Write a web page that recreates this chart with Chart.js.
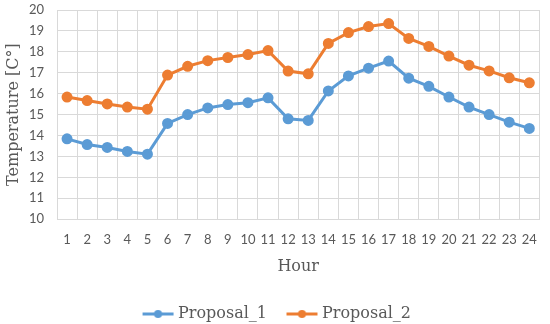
<!DOCTYPE html>
<html>
<head>
<meta charset="utf-8">
<script src="https://cdn.jsdelivr.net/npm/chart.js@4"></script>
<style>
  html, body { margin: 0; padding: 0; background: #fff; }
  #wrap { width: 550px; height: 324px; }
</style>
</head>
<body>
<div id="wrap"><canvas id="grafico" width="550" height="324"></canvas></div>
<script>
const horas = ['1','2','3','4','5','6','7','8','9','10','11','12','13','14','15','16','17','18','19','20','21','22','23','24'];
const proposta1 = [13.84, 13.57, 13.43, 13.24, 13.11, 14.58, 15.0, 15.32, 15.48, 15.57, 15.80, 14.80,
                   14.72, 16.13, 16.85, 17.22, 17.56, 16.74, 16.35, 15.84, 15.36, 15.0, 14.64, 14.34];
const proposta2 = [15.84, 15.67, 15.51, 15.36, 15.26, 16.89, 17.31, 17.58, 17.73, 17.87, 18.06, 17.08,
                   16.95, 18.40, 18.92, 19.21, 19.35, 18.64, 18.26, 17.80, 17.36, 17.09, 16.76, 16.52];

const azul = '#5B9BD5';
const laranja = '#ED7D31';
const cinza = '#595959';

// marcador da legenda: linha com bolinha no meio
// (imagem maior que a caixa, a linha fica colada no texto)
function marcador(cor) {
    const c = document.createElement('canvas');
    c.width = 62; c.height = 10;
    const g = c.getContext('2d');
    g.strokeStyle = cor;
    g.lineWidth = 3;
    g.beginPath();
    g.moveTo(17, 5);
    g.lineTo(48, 5);
    g.stroke();
    g.fillStyle = cor;
    g.beginPath();
    g.arc(32.5, 5, 4, 0, Math.PI * 2);
    g.fill();
    return c;
}

const ctx = document.getElementById('grafico');

let myChart = new Chart(ctx, {
    type: 'line',
    data: {
        labels: horas,
        datasets: [{
            label: 'Proposal_1',
            data: proposta1,
            borderColor: azul,
            backgroundColor: azul,
            borderWidth: 3,
            pointRadius: 4,
            pointStyle: 'circle',
            tension: 0
        },
        {
            label: 'Proposal_2',
            data: proposta2,
            borderColor: laranja,
            backgroundColor: laranja,
            borderWidth: 3,
            pointRadius: 4,
            pointStyle: 'circle',
            tension: 0
        }]
    },
    options: {
        responsive: false,
        animation: false,
        layout: { padding: { top: 0, right: 0, left: 4, bottom: 0 } },
        plugins: {
            legend: {
                position: 'bottom',
                labels: {
                    color: cinza,
                    usePointStyle: true,
                    pointStyleWidth: 27,
                    generateLabels(chart) {
                        return chart.data.datasets.map((ds, i) => ({
                            text: ds.label,
                            fontColor: cinza,
                            pointStyle: marcador(ds.borderColor),
                            datasetIndex: i,
                            lineWidth: 0
                        }));
                    },
                    padding: 20,
                    font: { family: 'DejaVu Serif', size: 16 }
                }
            },
            tooltip: { enabled: false }
        },
        scales: {
            x: {
                offset: true,
                grid: { color: '#D9D9D9', offset: true, drawTicks: false },
                border: { color: '#D9D9D9' },
                ticks: {
                    color: cinza,
                    padding: 13,
                    maxRotation: 0,
                    autoSkip: false,
                    font: { family: 'Lato', size: 13 }
                },
                title: {
                    display: true,
                    text: 'Hour',
                    color: cinza,
                    padding: { top: -4, bottom: 10 },
                    font: { family: 'DejaVu Serif', size: 16 }
                }
            },
            y: {
                min: 10,
                max: 20,
                ticks: {
                    stepSize: 1,
                    autoSkip: false,
                    color: cinza,
                    padding: 13,
                    font: { family: 'Lato', size: 13 }
                },
                grid: { color: '#D9D9D9', drawTicks: false },
                border: { color: '#D9D9D9' },
                title: {
                    display: true,
                    text: 'Temperature [C°]',
                    color: cinza,
                    padding: { top: 0, bottom: 0 },
                    font: { family: 'DejaVu Serif', size: 16 }
                },
                afterFit(scale) {
                    scale.width = 53;
                    scale.paddingTop = 10;
                    scale.paddingBottom = 8;
                }
            }
        }
    },
    plugins: [{
        // legenda mais colada na borda de baixo
        id: 'legendaBaixo',
        beforeUpdate(chart) {
            const lg = chart.legend;
            if (lg && !lg._ajustado) {
                const fitOriginal = lg.fit.bind(lg);
                lg.fit = function () {
                    fitOriginal();
                    this.height -= 8;
                };
                lg._ajustado = true;
            }
        }
    }]
});
</script>
</body>
</html>
